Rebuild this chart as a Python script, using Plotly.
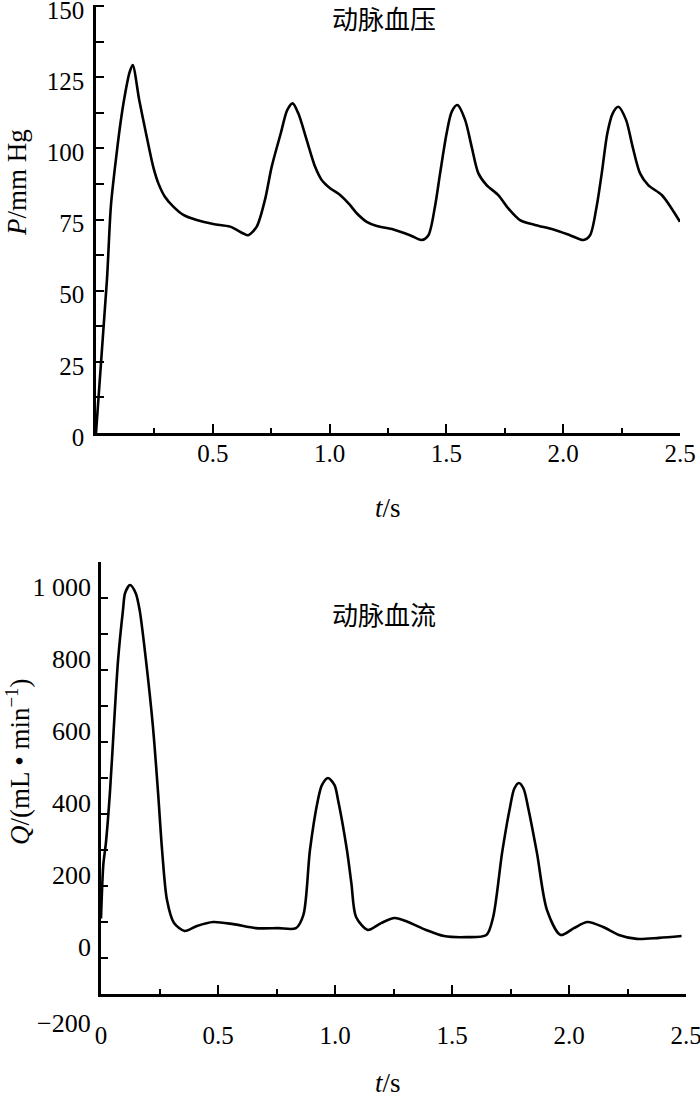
import plotly.graph_objects as go

# ---------------- data ----------------
# arterial pressure (mm Hg) vs time (s)
t_pressure = [0, 0.047, 0.064, 0.088, 0.105, 0.12, 0.143, 0.157, 0.185, 0.214, 0.245, 0.267, 0.295,
              0.331, 0.374, 0.431, 0.502, 0.574, 0.631, 0.652, 0.688, 0.723, 0.752, 0.791,
              0.819, 0.842, 0.866, 0.902, 0.938, 0.966, 1.002, 1.045, 1.087, 1.116, 1.159,
              1.202, 1.273, 1.344, 1.394, 1.423, 1.451, 1.473, 1.501, 1.523, 1.547, 1.58,
              1.608, 1.637, 1.672, 1.722, 1.765, 1.815, 1.879, 1.958, 2.029, 2.086, 2.115,
              2.143, 2.165, 2.189, 2.212, 2.236, 2.269, 2.297, 2.329, 2.364, 2.422, 2.464, 2.5]
pressure = [0, 54, 80, 98, 109, 117, 126.5, 129.3, 117, 105.3, 93.5, 87.7, 83,
            79.5, 76.6, 74.8, 73.4, 72.5, 70.1, 69.5, 72.5, 81.8, 93.5, 105.3,
            113.5, 115.8, 112.3, 102.9, 93.5, 88.9, 86, 83.6, 80.1, 77.2, 74.2,
            72.7, 71.5, 69.5, 67.8, 69.5, 79.5, 91.2, 105.3, 112.9, 115.2, 110,
            100.6, 91.2, 87.1, 83.6, 78.9, 74.8, 73.1, 71.5, 69.5, 67.8, 69.5,
            79.5, 91.2, 105.3, 112.3, 114.6, 110, 100.6, 91.2, 87.1, 83.6, 78.9, 74.2]

# arterial flow (mL/min) vs time (s)
t_flow = [0, 0.010, 0.021, 0.038, 0.055, 0.073, 0.094, 0.103, 0.124, 0.148, 0.165, 0.192,
          0.222, 0.244, 0.261, 0.282, 0.312, 0.358, 0.41, 0.479, 0.565, 0.661, 0.757, 0.833,
          0.865, 0.893, 0.927, 0.944, 0.97, 0.998, 1.013, 1.051, 1.07, 1.09, 1.14, 1.197,
          1.255, 1.312, 1.389, 1.466, 1.56, 1.647, 1.676, 1.714, 1.748, 1.766, 1.786, 1.806,
          1.825, 1.863, 1.906, 1.964, 2.021, 2.079, 2.146, 2.213, 2.29, 2.385, 2.481]
flow = [110, 260, 320, 458, 642, 828, 967, 1014, 1036, 1014, 967, 828,
        642, 458, 300, 161, 97, 75, 89, 100, 94, 83, 83, 83,
        120, 300, 439, 480, 500, 480, 439, 300, 208, 114, 78, 97,
        111, 100, 78, 61, 58, 64, 114, 292, 419, 470, 486, 470,
        419, 292, 133, 64, 83, 100, 86, 64, 53, 56, 61]

# tick labels
top_x_ticks = [0.5, 1.0, 1.5, 2.0, 2.5]
top_x_text = ["0.5", "1.0", "1.5", "2.0", "2.5"]
bot_x_ticks = [0, 0.5, 1.0, 1.5, 2.0, 2.5]
bot_x_text = ["0", "0.5", "1.0", "1.5", "2.0", "2.5"]
top_y_ticks = [0, 25, 50, 75, 100, 125, 150]
top_y_text = ["0", "25", "50", "75", "100", "125", "150"]
bot_y_ticks = [0, 200, 400, 600, 800, 1000]
bot_y_text = ["0", "200", "400", "600", "800", "1 000"]

# ---------------- layout helpers ----------------
W, H = 700, 1097


def fx(x):
    return x / W


def fy(y):
    return 1 - y / H


SERIF = "Liberation Serif"
CJK = "Noto Sans CJK SC"
TICKSIZE = 25

fig = go.Figure()
fig.add_trace(go.Scatter(x=t_pressure, y=pressure, mode="lines",
                         line=dict(color="black", width=2.6, shape="spline", smoothing=0.8),
                         xaxis="x", yaxis="y", showlegend=False, hoverinfo="skip"))
fig.add_trace(go.Scatter(x=t_flow, y=flow, mode="lines",
                         line=dict(color="black", width=2.6, shape="spline", smoothing=0.8),
                         xaxis="x2", yaxis="y2", showlegend=False, hoverinfo="skip"))

common = dict(showline=True, linewidth=2.5, linecolor="black", showgrid=False,
              zeroline=False, ticks="inside", tickwidth=2, tickcolor="black",
              ticklabeloverflow="allow")

fig.update_layout(
    width=W, height=H, margin=dict(l=0, r=0, t=0, b=0, autoexpand=False),
    paper_bgcolor="white", plot_bgcolor="white", showlegend=False,
    xaxis=dict(domain=[fx(96), fx(680)], anchor="y", range=[0, 2.5],
               tickmode="array", tickvals=top_x_ticks, ticktext=top_x_text, ticklen=9,
               minor=dict(tick0=0, dtick=0.25, ticks="inside", ticklen=5, tickwidth=2,
                          tickcolor="black", showgrid=False),
               tickfont=dict(family=SERIF, size=TICKSIZE, color="black"),
               ticklabelstandoff=-4, **common),
    yaxis=dict(domain=[fy(433), fy(4.6)], anchor="x", range=[0, 150.5],
               tickmode="array", tickvals=top_y_ticks, ticktext=top_y_text, ticklen=8,
               minor=dict(tick0=0, dtick=12.5, ticks="inside", ticklen=8, tickwidth=2,
                          tickcolor="black", showgrid=False),
               tickfont=dict(family=SERIF, size=TICKSIZE, color="black"),
               ticklabelshift=4, ticklabelstandoff=4, **common),
    xaxis2=dict(domain=[fx(101), fx(686)], anchor="y2", range=[0, 2.5],
                tickmode="array", tickvals=bot_x_ticks, ticktext=bot_x_text, ticklen=9,
                minor=dict(tick0=0, dtick=0.25, ticks="inside", ticklen=5, tickwidth=2,
                           tickcolor="black", showgrid=False),
                tickfont=dict(family=SERIF, size=TICKSIZE, color="black"),
                ticklabelstandoff=17, **common),
    yaxis2=dict(domain=[fy(994), fy(562)], anchor="x2", range=[-100, 1100],
                tickmode="array", tickvals=bot_y_ticks, ticktext=bot_y_text, ticklen=7,
                minor=dict(tick0=-100, dtick=100, ticks="inside", ticklen=7, tickwidth=2,
                           tickcolor="black", showgrid=False),
                tickfont=dict(family=SERIF, size=26, color="black"),
                ticklabelshift=-11, ticklabelstandoff=2, **common),
)

ann_font = dict(family=SERIF, size=27, color="black")
cjk_font = dict(family=CJK, size=26, color="black")
annotations = [
    dict(text="动脉血压", x=fx(384), y=fy(17), font=cjk_font),
    dict(text="动脉血流", x=fx(384), y=fy(613), font=cjk_font),
    dict(text="<i>P</i>/mm Hg", x=fx(17), y=fy(183), textangle=-90, font=ann_font),
    dict(text="<i>Q</i>/(mL • min<sup>−1</sup>)", x=fx(18), y=fy(762), textangle=-90,
         font=ann_font),
    dict(text="<i>t</i>/s", x=fx(388), y=fy(508), font=ann_font),
    dict(text="<i>t</i>/s", x=fx(388), y=fy(1083), font=ann_font),
    dict(text="−200", x=fx(93), y=fy(1023), xanchor="right",
         font=dict(family=SERIF, size=26, color="black")),
]
for a in annotations:
    a.setdefault("xanchor", "center")
    fig.add_annotation(xref="paper", yref="paper", yanchor="middle", showarrow=False, **a)

fig.write_html(
    "out.html",
    config={"displayModeBar": False},
    post_script="document.body.style.margin='0';document.body.style.overflow='hidden';",
)
